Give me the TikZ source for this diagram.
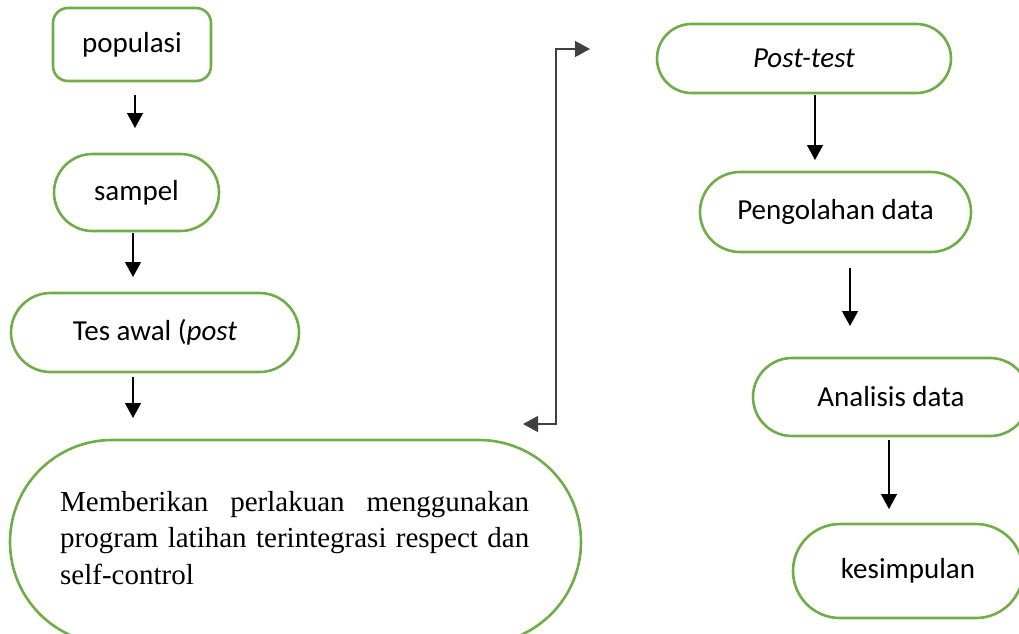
\documentclass[tikz,border=0pt]{standalone}
\usepackage{fontspec}
\setmainfont{Carlito}
\newfontfamily\timesfont{Liberation Serif}
\usetikzlibrary{shapes.misc,arrows.meta}
\definecolor{boxgreen}{HTML}{70AD47}
\definecolor{linkgray}{HTML}{404040}
\tolerance=10000
\hyphenpenalty=10000
\tikzset{
  box/.style={draw=boxgreen, line width=2.6pt, inner sep=0pt, font=\fontsize{29}{34}\selectfont},
  pill/.style={box, rounded rectangle},
  rbox/.style={box, rectangle, rounded corners=15pt},
  flow/.style={line width=1.3pt, -{Triangle[length=15pt,width=16pt]}},
  link/.style={draw=linkgray, line width=1.3pt, {Triangle[length=15pt,width=16pt]}-{Triangle[length=15pt,width=16pt]}},
  bodytext/.style={inner sep=0pt, text width=469pt, align=justify,
    font=\timesfont\fontsize{29}{36.5}\selectfont},
}
\begin{document}
\begin{tikzpicture}[x=1pt,y=-1pt]
\useasboundingbox (0,0) rectangle (1019,633);
\begin{scope}
\clip (0,0) rectangle (1019,633);
% left column
\node[rbox, minimum width=158pt, minimum height=73pt] (pop) at (132,44.5) {populasi};
\node[pill, minimum width=165pt, minimum height=77pt] (samp) at (136.5,192.5) {sampel};
\node[pill, minimum width=288pt, minimum height=79pt] (tes) at (155,332.5) {Tes awal (\textit{post}};
\node[pill, minimum width=571pt, minimum height=204pt] (treat) at (295.5,542) {};
\node[bodytext, anchor=north west] (treattxt) at (60,491) {Memberikan perlakuan menggunakan program latihan terintegrasi respect dan self-control};
% right column
\node[pill, minimum width=294pt, minimum height=69pt] (post) at (804,58.5) {\textit{Post-test}};
\node[pill, minimum width=271pt, minimum height=80pt] (olah) at (835.5,212) {Pengolahan data};
\node[pill, minimum width=276pt, minimum height=78pt] (anal) at (891,397) {Analisis data};
\node[pill, minimum width=230pt, minimum height=94pt] (kes) at (908,571) {kesimpulan};
% arrow end points
\coordinate (a1s) at (135,95);  \coordinate (a1e) at (135,128);
\coordinate (a2s) at (133,233); \coordinate (a2e) at (133,277);
\coordinate (a3s) at (133,377); \coordinate (a3e) at (133,418);
\coordinate (a4s) at (815,95);  \coordinate (a4e) at (815,160);
\coordinate (a5s) at (850,268); \coordinate (a5e) at (850,326);
\coordinate (a6s) at (889,440); \coordinate (a6e) at (889,509);
\draw[flow] (a1s) -- (a1e);
\draw[flow] (a2s) -- (a2e);
\draw[flow] (a3s) -- (a3e);
\draw[flow] (a4s) -- (a4e);
\draw[flow] (a5s) -- (a5e);
\draw[flow] (a6s) -- (a6e);
% feedback connector
\coordinate (fb1) at (523,424);
\coordinate (fbc1) at (556,424);
\coordinate (fbc2) at (556,49);
\coordinate (fb2) at (590,49);
\draw[link] (fb1) -- (fbc1) -- (fbc2) -- (fb2);
\end{scope}
\end{tikzpicture}
\end{document}
